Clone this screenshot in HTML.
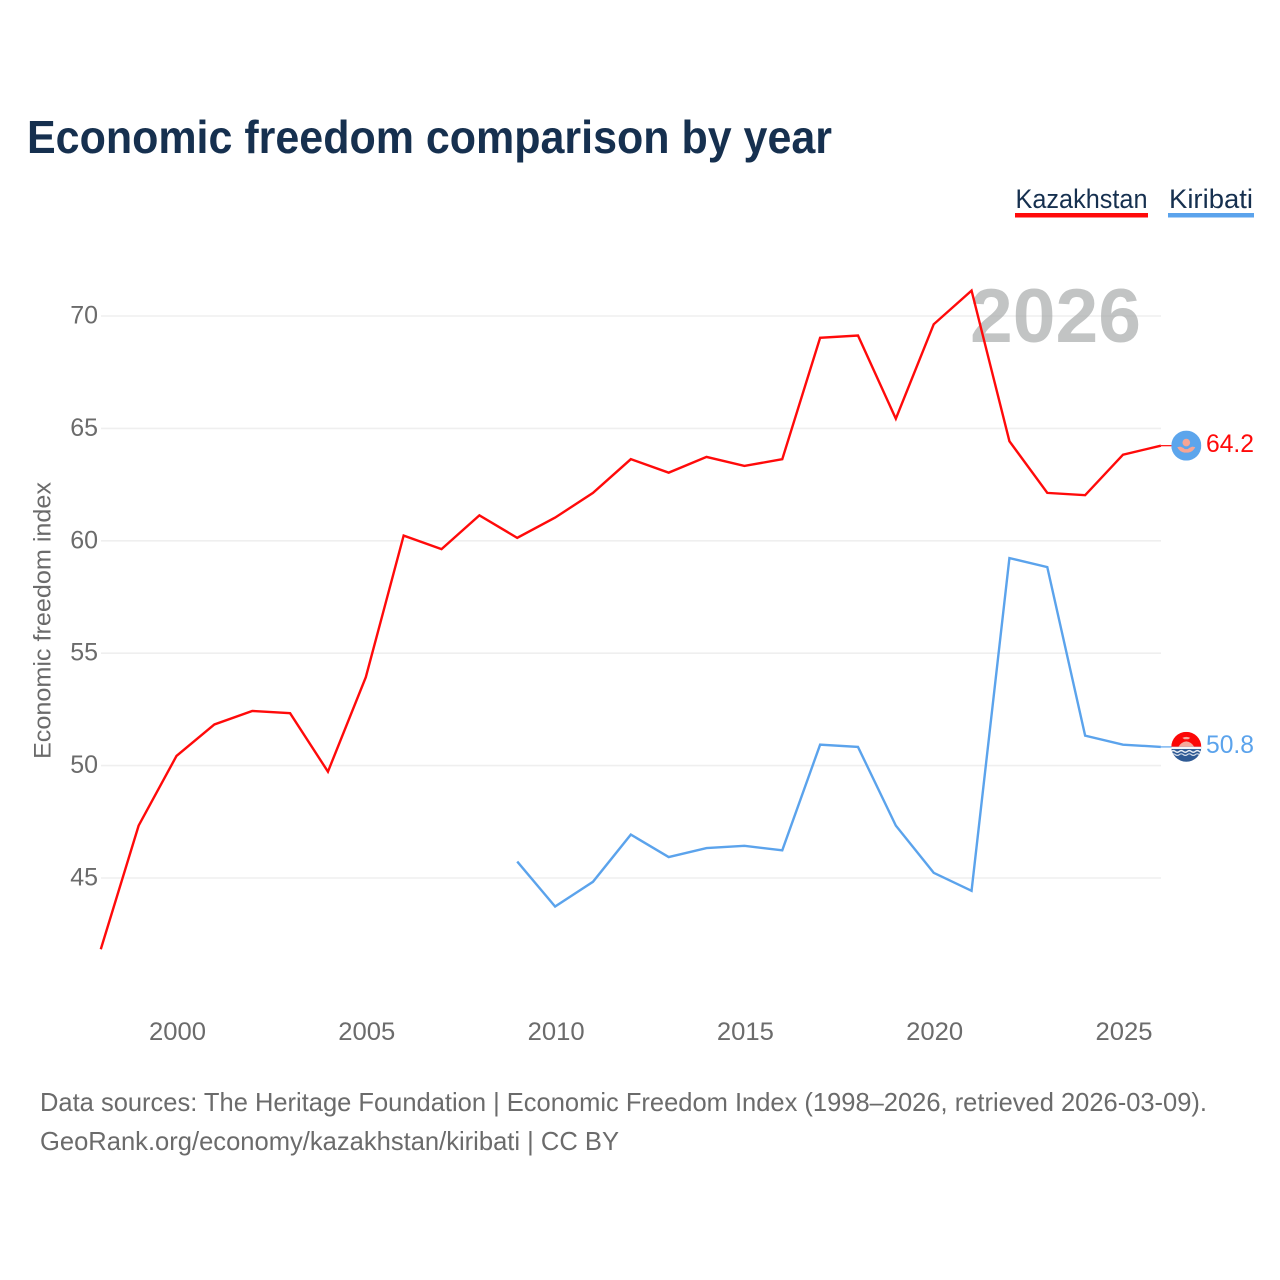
<!DOCTYPE html>
<html lang="en">
<head>
<meta charset="utf-8">
<title>Economic freedom comparison by year</title>
<style>
html,body{margin:0;padding:0;background:#fff;width:1280px;height:1280px;overflow:hidden}
svg{display:block}
text{font-family:"Liberation Sans",Arial,sans-serif}
</style>
</head>
<body>
<svg id="chart" xmlns="http://www.w3.org/2000/svg" width="1280" height="1280" viewBox="0 0 1280 1280">
  <defs>
    <clipPath id="flag-clip"><circle cx="0" cy="0" r="15"></circle></clipPath>
  </defs>
  <rect x="0" y="0" width="1280" height="1280" fill="#fff"></rect>
  <text x="27" y="153" font-size="46" font-weight="700" fill="#16304f" textLength="805" lengthAdjust="spacingAndGlyphs">Economic freedom comparison by year</text>

  <g>
    <g>
      <text x="1015.5" y="208" font-size="27" fill="#16304f" textLength="132" lengthAdjust="spacingAndGlyphs">Kazakhstan</text>
      <rect x="1015" y="213" width="133" height="4.5" fill="#ff0a0a"></rect>
    </g>
    <g>
      <text x="1169" y="208" font-size="27" fill="#16304f" textLength="84" lengthAdjust="spacingAndGlyphs">Kiribati</text>
      <rect x="1168" y="213" width="86" height="4.5" fill="#5ba3ec"></rect>
    </g>
  </g>

  <g id="grid"></g>
  <g id="y-ticks"></g>
  <g id="x-ticks"></g>

  <text transform="translate(50.5,759) rotate(-90)" x="0" y="0" font-size="24" fill="#6b6b6b" textLength="277" lengthAdjust="spacingAndGlyphs">Economic freedom index</text>

  <text x="970" y="342" font-size="76" font-weight="700" fill="#a5a8a8" fill-opacity="0.68" textLength="171" lengthAdjust="spacingAndGlyphs">2026</text>

  <g id="series" transform="translate(-1,-0.7)"></g>
  <g id="ends"></g>

  <text x="40" y="1111" font-size="26" fill="#6b6b6b" textLength="1167" lengthAdjust="spacingAndGlyphs">Data sources: The Heritage Foundation | Economic Freedom Index (1998–2026, retrieved 2026-03-09).</text>
  <text x="40" y="1150" font-size="26" fill="#6b6b6b" textLength="579" lengthAdjust="spacingAndGlyphs">GeoRank.org/economy/kazakhstan/kiribati | CC BY</text>
</svg>

<script>
const kazakhstanYears = [1998,1999,2000,2001,2002,2003,2004,2005,2006,2007,2008,2009,2010,2011,2012,2013,2014,2015,2016,2017,2018,2019,2020,2021,2022,2023,2024,2025,2026];
const kazakhstanValues = [41.8,47.3,50.4,51.8,52.4,52.3,49.7,53.9,60.2,59.6,61.1,60.1,61.0,62.1,63.6,63.0,63.7,63.3,63.6,69.0,69.1,65.4,69.6,71.1,64.4,62.1,62.0,63.8,64.2];
const kiribatiYears = [2009,2010,2011,2012,2013,2014,2015,2016,2017,2018,2019,2020,2021,2022,2023,2024,2025,2026];
const kiribatiValues = [45.7,43.7,44.8,46.9,45.9,46.3,46.4,46.2,50.9,50.8,47.3,45.2,44.4,59.2,58.8,51.3,50.9,50.8];
const yTickValues = [45,50,55,60,65,70];
const xTickValues = [2000,2005,2010,2015,2020,2025];

const NS = 'http://www.w3.org/2000/svg';
function xScale(year){ return 177.5 + (year - 2000) * 37.86; }
function yScale(v){ return 878 - (v - 45) * 22.48; }
function make(tag, attrs, parent){
  const el = document.createElementNS(NS, tag);
  for (const k in attrs) el.setAttribute(k, attrs[k]);
  parent.appendChild(el);
  return el;
}
const grid = document.getElementById('grid');
const yTicksG = document.getElementById('y-ticks');
const xTicksG = document.getElementById('x-ticks');
const seriesG = document.getElementById('series');
const endsG = document.getElementById('ends');

yTickValues.forEach(function(v){
  const line = make('line', {x1:101, x2:1161, y1:yScale(v), y2:yScale(v), stroke:'#efefef', 'stroke-width':1.6}, grid);
  
  
  const t = make('text', {x:98, y:yScale(v)+7.5, 'font-size':25, fill:'#6b6b6b', 'text-anchor':'end'}, yTicksG);
  
  
  t.textContent = v;
});
xTickValues.forEach(function(y){
  const t = make('text', {x:xScale(y), y:1040, 'font-size':25, fill:'#6b6b6b', 'text-anchor':'middle', textLength:57, lengthAdjust:'spacingAndGlyphs'}, xTicksG);
  
  
  t.textContent = y;
});

function pathFor(years, values){
  return years.map(function(yr, i){
    return (i ? 'L' : 'M') + xScale(yr).toFixed(2) + ' ' + yScale(values[i]).toFixed(2);
  }).join(' ');
}
const kzLine = make('path', {d:pathFor(kazakhstanYears, kazakhstanValues), fill:'none', stroke:'#ff0a0a', 'stroke-width':2.4, 'stroke-linejoin':'miter'}, seriesG);


const kiLine = make('path', {d:pathFor(kiribatiYears, kiribatiValues), fill:'none', stroke:'#5ba3ec', 'stroke-width':2.4, 'stroke-linejoin':'miter'}, seriesG);



const kzLast = kazakhstanValues[kazakhstanValues.length - 1];
const kiLast = kiribatiValues[kiribatiValues.length - 1];
const lastX = xScale(2026) - 1;

const kzConn = make('line', {x1:lastX, x2:1172, y1:yScale(kzLast) - 0.7, y2:yScale(kzLast) - 0.7, stroke:'#ff0a0a', 'stroke-width':1.2}, endsG);


const kiConn = make('line', {x1:lastX, x2:1172, y1:yScale(kiLast) - 0.7, y2:yScale(kiLast) - 0.7, stroke:'#5ba3ec', 'stroke-width':1.2}, endsG);



// Kazakhstan flag marker
const kzFlag = make('g', {transform:'translate(1186.3,' + (yScale(kzLast) - 0.8) + ')', 'clip-path':'url(#flag-clip)'}, endsG);


make('rect', {x:-15, y:-15, width:30, height:30, fill:'#5ca5ec'}, kzFlag);
make('circle', {cx:0, cy:-3, r:3.8, fill:'#f6a594'}, kzFlag);
make('path', {d:'M-9 1.5 L-6 1 Q-3 2 -1.5 3.5 L1.5 3.5 Q3 2 6 1 L9 1.5 Q7 6 2 7 L-2 7 Q-7 6 -9 1.5 Z', fill:'#f6a594'}, kzFlag);

// Kiribati flag marker
const kiFlag = make('g', {transform:'translate(1186.3,' + (yScale(kiLast) - 0.8) + ')', 'clip-path':'url(#flag-clip)'}, endsG);


make('rect', {x:-15, y:-15, width:30, height:15, fill:'#fb0707'}, kiFlag);
make('path', {d:'M-8 0 Q-5 -5 0 -5.5 Q5 -5 8 0 Z', fill:'#f5a99c'}, kiFlag);
make('path', {d:'M-4 -9 Q0 -11 4 -9 L2 -7.6 L-2 -7.6 Z', fill:'#f5a99c'}, kiFlag);
make('rect', {x:-15, y:0, width:30, height:15, fill:'#2f5a94'}, kiFlag);
make('rect', {x:-15, y:0, width:30, height:2.2, fill:'#f5f7fa'}, kiFlag);
make('path', {d:'M-15 4.6 Q-13 3 -11 4.6 T-7 4.6 T-3 4.6 T1 4.6 T5 4.6 T9 4.6 T13 4.6 T17 4.6', fill:'none', stroke:'#e8edf4', 'stroke-width':1.4}, kiFlag);
make('path', {d:'M-15 7.8 Q-13 6.2 -11 7.8 T-7 7.8 T-3 7.8 T1 7.8 T5 7.8 T9 7.8 T13 7.8 T17 7.8', fill:'none', stroke:'#d5dde9', 'stroke-width':1.2}, kiFlag);

const kzLabel = make('text', {x:1206, y:yScale(kzLast)+5.5, 'font-size':25, fill:'#ff0a0a', textLength:48, lengthAdjust:'spacingAndGlyphs'}, endsG);


kzLabel.textContent = kzLast.toFixed(1);
const kiLabel = make('text', {x:1206, y:yScale(kiLast)+5.5, 'font-size':25, fill:'#5ba3ec', textLength:48, lengthAdjust:'spacingAndGlyphs'}, endsG);


kiLabel.textContent = kiLast.toFixed(1);
</script>
</body>
</html>
